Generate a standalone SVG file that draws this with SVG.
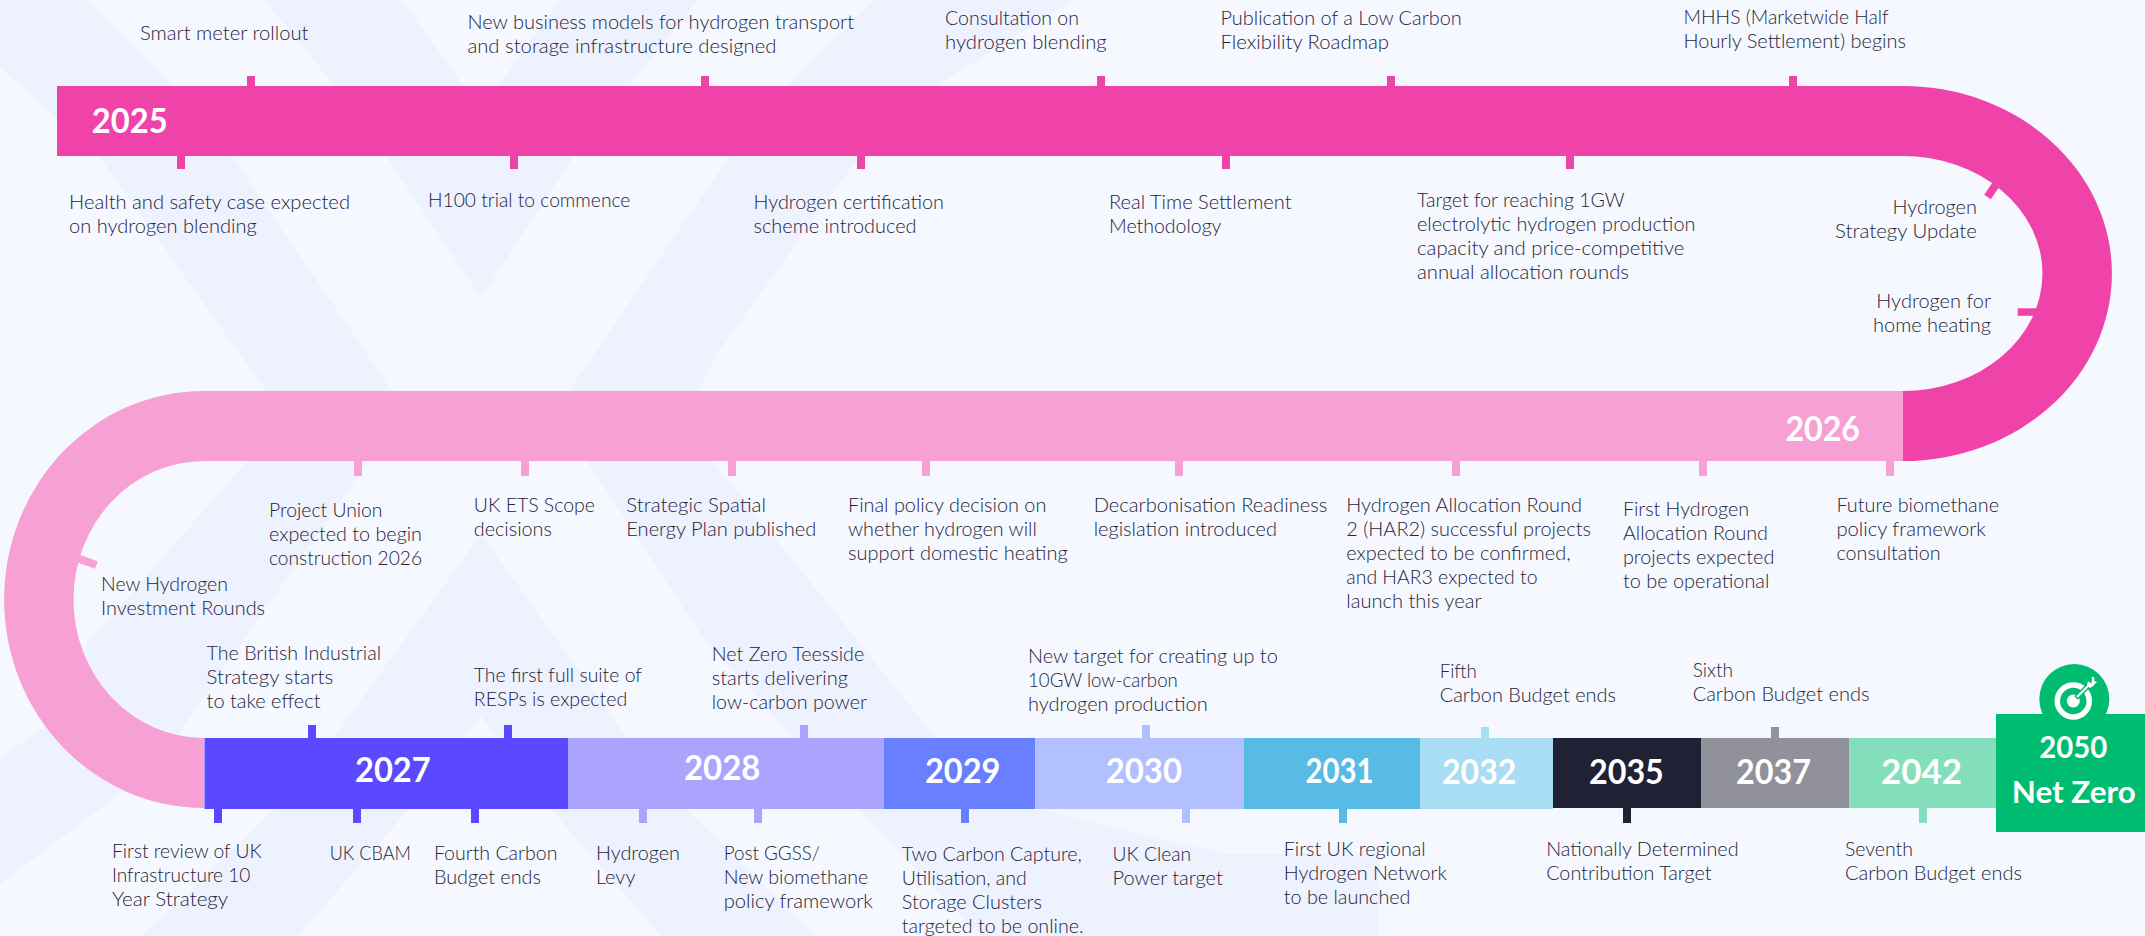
<svg xmlns="http://www.w3.org/2000/svg" width="2145" height="936" viewBox="0 0 2145 936">
<style>
.bgb{fill:#eef1fe}
text{font-family:"Lato","Noto Sans","Liberation Sans",sans-serif}
.t{font-size:19px;fill:#252438;font-weight:300}
.y{font-size:34px;fill:#ffffff;font-weight:700}
.z{font-size:31px;fill:#ffffff;font-weight:700}
</style>
<rect width="2145" height="936" fill="#f5f8ff"/>
<g id="background">
<polygon class="bgb" points="0,0 87,0 174,86 232,156 392,391 404,409 358,476 179,733 124,791 0,884 0,758 46,726 90,640 243,466 285,418 266,391 99,156 0,67"/>
<polygon class="bgb" points="874,0 1073,0 936,86 849,170 720,350 698,391 675,430 720,470 936,738 1041,809 1225,854 1379,853 1379,936 980,936 858,809 702,636 590,466 555,412 569,391 720,170 787,86"/>
<polygon class="bgb" points="264,0 402,0 481,110 560,0 698,0 629,86 574,156 481,298 386,156 335,86"/>
<polygon class="bgb" points="481,534 627,738 687,809 815,936 661,936 551,809 481,716 409,809 298,936 142,936 275,809 335,736"/>
</g>
<g id="connectors">
<g fill="#f043a9">
<rect x="247" y="76" width="8" height="11"/><rect x="701" y="76" width="8" height="11"/><rect x="1097" y="76" width="8" height="11"/><rect x="1387" y="76" width="8" height="11"/><rect x="1789" y="76" width="8" height="11"/>
<rect x="177" y="155" width="8" height="14"/><rect x="510" y="155" width="8" height="14"/><rect x="857" y="155" width="8" height="14"/><rect x="1222" y="155" width="8" height="14"/><rect x="1566" y="155" width="8" height="14"/>
<rect x="2017.7" y="308.3" width="27" height="7.5"/>
<line x1="2001" y1="177" x2="1987.5" y2="197" stroke="#f043a9" stroke-width="8"/>
</g>
<g fill="#f6a0d4">
<rect x="354" y="460" width="8" height="16"/><rect x="521" y="460" width="8" height="16"/><rect x="728" y="460" width="8" height="16"/><rect x="922" y="460" width="8" height="16"/><rect x="1175" y="460" width="8" height="16"/><rect x="1452" y="460" width="8" height="16"/><rect x="1699" y="460" width="8" height="16"/><rect x="1886" y="460" width="8" height="16"/>
<line x1="70" y1="555.5" x2="96.4" y2="565" stroke="#f6a0d4" stroke-width="8"/>
</g>
<rect x="308" y="725" width="8" height="14" fill="#5b49ff"/><rect x="504" y="725" width="8" height="14" fill="#5b49ff"/>
<rect x="214" y="808" width="8" height="15" fill="#5b49ff"/><rect x="353" y="808" width="8" height="15" fill="#5b49ff"/><rect x="471" y="808" width="8" height="15" fill="#5b49ff"/>
<rect x="639" y="808" width="8" height="15" fill="#aca3ff"/><rect x="754" y="808" width="8" height="15" fill="#aca3ff"/><rect x="800" y="725" width="8" height="14" fill="#aca3ff"/>
<rect x="961" y="808" width="8" height="15" fill="#6880ff"/>
<rect x="1142" y="725" width="8" height="14" fill="#b3c0ff"/><rect x="1182" y="808" width="8" height="15" fill="#b3c0ff"/>
<rect x="1339" y="808" width="8" height="15" fill="#57bbe6"/>
<rect x="1481" y="727" width="8" height="12" fill="#a9ddf3"/>
<rect x="1623" y="807" width="8" height="16" fill="#212135"/>
<rect x="1771" y="727" width="8" height="12" fill="#90919a"/>
<rect x="1919" y="807" width="8" height="16" fill="#83dfbb"/>
</g>
<g id="band-2025">
<path d="M57 86H1903A209 187.5 0 0 1 1903 461V391A139.5 117.5 0 0 0 1903 156H57Z" fill="#f043a9"/>
<text class="y" x="91.8" y="132.7" textLength="75.8" lengthAdjust="spacingAndGlyphs">2025</text>
</g>
<g id="band-2026">
<path d="M1903 391H204A199.4 208 0 0 0 204 808V738A130.5 138.5 0 0 1 204 461H1903Z" fill="#f6a0d4"/>
<text class="y" x="1785.4" y="440.7" textLength="74.6" lengthAdjust="spacingAndGlyphs">2026</text>
</g>
<g id="band-2027"><rect x="204.5" y="738" width="363.5" height="71" fill="#5b49ff"/><text class="y" x="355" y="782" textLength="75.7" lengthAdjust="spacingAndGlyphs">2027</text></g>
<g id="band-2028"><rect x="568" y="738" width="316" height="71" fill="#aca3ff"/><text class="y" x="684" y="780.3" textLength="76.4" lengthAdjust="spacingAndGlyphs">2028</text></g>
<g id="band-2029"><rect x="884" y="738" width="151" height="71" fill="#6880ff"/><text class="y" x="925" y="783" textLength="75.5" lengthAdjust="spacingAndGlyphs">2029</text></g>
<g id="band-2030"><rect x="1035" y="738" width="209" height="71" fill="#b3c0ff"/><text class="y" x="1105.7" y="783" textLength="76.3" lengthAdjust="spacingAndGlyphs">2030</text></g>
<g id="band-2031"><rect x="1244" y="738" width="176" height="71" fill="#57bbe6"/><text class="y" x="1305.4" y="783" textLength="68" lengthAdjust="spacingAndGlyphs">2031</text></g>
<g id="band-2032"><rect x="1420" y="738" width="133" height="71" fill="#a9ddf3"/><text class="y" x="1442" y="784.3" textLength="74.4" lengthAdjust="spacingAndGlyphs">2032</text></g>
<g id="band-2035"><rect x="1553" y="738" width="148" height="70" fill="#212135"/><text class="y" x="1589" y="784.3" textLength="74.8" lengthAdjust="spacingAndGlyphs">2035</text></g>
<g id="band-2037"><rect x="1701" y="738" width="148" height="70" fill="#90919a"/><text class="y" x="1736" y="784.3" textLength="75" lengthAdjust="spacingAndGlyphs">2037</text></g>
<g id="band-2042"><rect x="1849" y="738" width="147" height="70" fill="#83dfbb"/><text class="y" x="1881" y="784.3" textLength="81" lengthAdjust="spacingAndGlyphs">2042</text></g>
<g id="band-2050">
<circle cx="2074.3" cy="699" r="35" fill="#00bc70"/>
<rect x="1996" y="714" width="149" height="118" fill="#00bc70"/>
<circle cx="2073.3" cy="701" r="16" fill="none" stroke="#fff" stroke-width="5.5"/>
<circle cx="2073.3" cy="701" r="6.5" fill="#fff"/>
<line x1="2076" y1="698" x2="2090" y2="684" stroke="#00bc70" stroke-width="5"/>
<line x1="2077" y1="697" x2="2091" y2="683" stroke="#fff" stroke-width="2.2"/>
<polygon points="2088,681 2091,684 2094,681 2097,682 2093,686 2090,688 2087,685" fill="#fff"/>
<line x1="2093" y1="677" x2="2093" y2="683" stroke="#fff" stroke-width="2.5"/>
<text class="z" x="2039.3" y="758.3" textLength="68" lengthAdjust="spacingAndGlyphs">2050</text>
<text class="z" x="2011.8" y="802.7" textLength="123.9" lengthAdjust="spacingAndGlyphs">Net Zero</text>
</g>
<g id="ev-smart-meter"><text class="t" x="140" y="40" textLength="168.5" lengthAdjust="spacingAndGlyphs">Smart meter rollout</text></g>
<g id="ev-business-models"><text class="t" x="467.4" y="29.3" textLength="386.6" lengthAdjust="spacingAndGlyphs">New business models for hydrogen transport</text><text class="t" x="467.4" y="53.3" textLength="309.1" lengthAdjust="spacingAndGlyphs">and storage infrastructure designed</text></g>
<g id="ev-consultation"><text class="t" x="945" y="25.3" textLength="134" lengthAdjust="spacingAndGlyphs">Consultation on</text><text class="t" x="945" y="49.3" textLength="161.6" lengthAdjust="spacingAndGlyphs">hydrogen blending</text></g>
<g id="ev-flex"><text class="t" x="1220.5" y="25.3" textLength="241.2" lengthAdjust="spacingAndGlyphs">Publication of a Low Carbon</text><text class="t" x="1220.5" y="49.3" textLength="168.5" lengthAdjust="spacingAndGlyphs">Flexibility Roadmap</text></g>
<g id="ev-mhhs"><text class="t" x="1683.5" y="24" textLength="205.2" lengthAdjust="spacingAndGlyphs">MHHS (Marketwide Half</text><text class="t" x="1683.5" y="48.3" textLength="222.5" lengthAdjust="spacingAndGlyphs">Hourly Settlement) begins</text></g>
<g id="ev-health"><text class="t" x="69" y="209" textLength="281" lengthAdjust="spacingAndGlyphs">Health and safety case expected</text><text class="t" x="69" y="233" textLength="187.7" lengthAdjust="spacingAndGlyphs">on hydrogen blending</text></g>
<g id="ev-h100"><text class="t" x="428" y="207.3" textLength="202.4" lengthAdjust="spacingAndGlyphs">H100 trial to commence</text></g>
<g id="ev-cert"><text class="t" x="753.5" y="209" textLength="190.5" lengthAdjust="spacingAndGlyphs">Hydrogen certification</text><text class="t" x="753.5" y="233" textLength="163" lengthAdjust="spacingAndGlyphs">scheme introduced</text></g>
<g id="ev-rts"><text class="t" x="1109" y="209" textLength="182.6" lengthAdjust="spacingAndGlyphs">Real Time Settlement</text><text class="t" x="1109" y="233" textLength="112.4" lengthAdjust="spacingAndGlyphs">Methodology</text></g>
<g id="ev-1gw"><text class="t" x="1417" y="207.3" textLength="207.7" lengthAdjust="spacingAndGlyphs">Target for reaching 1GW</text><text class="t" x="1417" y="231.3" textLength="278.4" lengthAdjust="spacingAndGlyphs">electrolytic hydrogen production</text><text class="t" x="1417" y="255.3" textLength="267.4" lengthAdjust="spacingAndGlyphs">capacity and price-competitive</text><text class="t" x="1417" y="279.3" textLength="211.9" lengthAdjust="spacingAndGlyphs">annual allocation rounds</text></g>
<g id="ev-strategy"><text class="t" x="1892.4" y="214.3" textLength="84.5" lengthAdjust="spacingAndGlyphs">Hydrogen</text><text class="t" x="1835" y="238.3" textLength="141.9" lengthAdjust="spacingAndGlyphs">Strategy Update</text></g>
<g id="ev-home"><text class="t" x="1876.3" y="308.3" textLength="114.7" lengthAdjust="spacingAndGlyphs">Hydrogen for</text><text class="t" x="1873" y="332.3" textLength="118" lengthAdjust="spacingAndGlyphs">home heating</text></g>
<g id="ev-union"><text class="t" x="269" y="517" textLength="113.5" lengthAdjust="spacingAndGlyphs">Project Union</text><text class="t" x="269" y="541" textLength="153" lengthAdjust="spacingAndGlyphs">expected to begin</text><text class="t" x="269" y="565" textLength="153" lengthAdjust="spacingAndGlyphs">construction 2026</text></g>
<g id="ev-ets"><text class="t" x="473.8" y="512.3" textLength="121.2" lengthAdjust="spacingAndGlyphs">UK ETS Scope</text><text class="t" x="473.8" y="536.3" textLength="78.1" lengthAdjust="spacingAndGlyphs">decisions</text></g>
<g id="ev-spatial"><text class="t" x="626.3" y="512.3" textLength="139.7" lengthAdjust="spacingAndGlyphs">Strategic Spatial</text><text class="t" x="626.3" y="536.3" textLength="190.1" lengthAdjust="spacingAndGlyphs">Energy Plan published</text></g>
<g id="ev-final"><text class="t" x="848" y="512.3" textLength="198.4" lengthAdjust="spacingAndGlyphs">Final policy decision on</text><text class="t" x="848" y="536.3" textLength="188.8" lengthAdjust="spacingAndGlyphs">whether hydrogen will</text><text class="t" x="848" y="560.3" textLength="219.6" lengthAdjust="spacingAndGlyphs">support domestic heating</text></g>
<g id="ev-decarb"><text class="t" x="1093.7" y="512.3" textLength="233.7" lengthAdjust="spacingAndGlyphs">Decarbonisation Readiness</text><text class="t" x="1093.7" y="536.3" textLength="183.3" lengthAdjust="spacingAndGlyphs">legislation introduced</text></g>
<g id="ev-har2"><text class="t" x="1346.3" y="512.3" textLength="235.7" lengthAdjust="spacingAndGlyphs">Hydrogen Allocation Round</text><text class="t" x="1346.3" y="536.3" textLength="244.7" lengthAdjust="spacingAndGlyphs">2 (HAR2) successful projects</text><text class="t" x="1346.3" y="560.3" textLength="224.2" lengthAdjust="spacingAndGlyphs">expected to be confirmed,</text><text class="t" x="1346.3" y="584.3" textLength="191.2" lengthAdjust="spacingAndGlyphs">and HAR3 expected to</text><text class="t" x="1346.3" y="608.3" textLength="135.2" lengthAdjust="spacingAndGlyphs">launch this year</text></g>
<g id="ev-first-har"><text class="t" x="1622.9" y="516" textLength="126.1" lengthAdjust="spacingAndGlyphs">First Hydrogen</text><text class="t" x="1622.9" y="540" textLength="145.1" lengthAdjust="spacingAndGlyphs">Allocation Round</text><text class="t" x="1622.9" y="564" textLength="151.5" lengthAdjust="spacingAndGlyphs">projects expected</text><text class="t" x="1622.9" y="588" textLength="146.5" lengthAdjust="spacingAndGlyphs">to be operational</text></g>
<g id="ev-biomethane"><text class="t" x="1836.4" y="512.3" textLength="162.6" lengthAdjust="spacingAndGlyphs">Future biomethane</text><text class="t" x="1836.4" y="536.3" textLength="149.6" lengthAdjust="spacingAndGlyphs">policy framework</text><text class="t" x="1836.4" y="560.3" textLength="104.2" lengthAdjust="spacingAndGlyphs">consultation</text></g>
<g id="ev-investment"><text class="t" x="101" y="591.3" textLength="127" lengthAdjust="spacingAndGlyphs">New Hydrogen</text><text class="t" x="101" y="615.3" textLength="164" lengthAdjust="spacingAndGlyphs">Investment Rounds</text></g>
<g id="ev-british"><text class="t" x="206.6" y="660" textLength="174.4" lengthAdjust="spacingAndGlyphs">The British Industrial</text><text class="t" x="206.6" y="684" textLength="126.7" lengthAdjust="spacingAndGlyphs">Strategy starts</text><text class="t" x="206.6" y="708" textLength="113.9" lengthAdjust="spacingAndGlyphs">to take effect</text></g>
<g id="ev-resps"><text class="t" x="473.8" y="682" textLength="168.1" lengthAdjust="spacingAndGlyphs">The first full suite of</text><text class="t" x="473.8" y="706" textLength="153.4" lengthAdjust="spacingAndGlyphs">RESPs is expected</text></g>
<g id="ev-teesside"><text class="t" x="711.7" y="661" textLength="152.5" lengthAdjust="spacingAndGlyphs">Net Zero Teesside</text><text class="t" x="711.7" y="685" textLength="136.3" lengthAdjust="spacingAndGlyphs">starts delivering</text><text class="t" x="711.7" y="709" textLength="155.2" lengthAdjust="spacingAndGlyphs">low-carbon power</text></g>
<g id="ev-10gw"><text class="t" x="1028" y="663.3" textLength="249.8" lengthAdjust="spacingAndGlyphs">New target for creating up to</text><text class="t" x="1028" y="687.3" textLength="149.8" lengthAdjust="spacingAndGlyphs">10GW low-carbon</text><text class="t" x="1028" y="711.3" textLength="179.6" lengthAdjust="spacingAndGlyphs">hydrogen production</text></g>
<g id="ev-fifth"><text class="t" x="1439.7" y="678" textLength="37.2" lengthAdjust="spacingAndGlyphs">Fifth</text><text class="t" x="1439.7" y="702" textLength="176.3" lengthAdjust="spacingAndGlyphs">Carbon Budget ends</text></g>
<g id="ev-sixth"><text class="t" x="1692.7" y="677" textLength="40.3" lengthAdjust="spacingAndGlyphs">Sixth</text><text class="t" x="1692.7" y="701" textLength="176.7" lengthAdjust="spacingAndGlyphs">Carbon Budget ends</text></g>
<g id="ev-infra"><text class="t" x="112" y="858" textLength="149.7" lengthAdjust="spacingAndGlyphs">First review of UK</text><text class="t" x="112" y="882" textLength="138.2" lengthAdjust="spacingAndGlyphs">Infrastructure 10</text><text class="t" x="112" y="906" textLength="116.2" lengthAdjust="spacingAndGlyphs">Year Strategy</text></g>
<g id="ev-cbam"><text class="t" x="329.7" y="860" textLength="81.2" lengthAdjust="spacingAndGlyphs">UK CBAM</text></g>
<g id="ev-fourth"><text class="t" x="433.9" y="860" textLength="123.5" lengthAdjust="spacingAndGlyphs">Fourth Carbon</text><text class="t" x="433.9" y="884" textLength="107" lengthAdjust="spacingAndGlyphs">Budget ends</text></g>
<g id="ev-levy"><text class="t" x="596" y="860" textLength="84" lengthAdjust="spacingAndGlyphs">Hydrogen</text><text class="t" x="596" y="884" textLength="39.4" lengthAdjust="spacingAndGlyphs">Levy</text></g>
<g id="ev-ggss"><text class="t" x="723.7" y="860" textLength="96.3" lengthAdjust="spacingAndGlyphs">Post GGSS/</text><text class="t" x="723.7" y="884" textLength="144.6" lengthAdjust="spacingAndGlyphs">New biomethane</text><text class="t" x="723.7" y="908" textLength="149.2" lengthAdjust="spacingAndGlyphs">policy framework</text></g>
<g id="ev-ccus"><text class="t" x="901.8" y="861" textLength="180" lengthAdjust="spacingAndGlyphs">Two Carbon Capture,</text><text class="t" x="901.8" y="885" textLength="124.9" lengthAdjust="spacingAndGlyphs">Utilisation, and</text><text class="t" x="901.8" y="909" textLength="140.1" lengthAdjust="spacingAndGlyphs">Storage Clusters</text><text class="t" x="901.8" y="933" textLength="181.8" lengthAdjust="spacingAndGlyphs">targeted to be online.</text></g>
<g id="ev-clean"><text class="t" x="1112.6" y="861" textLength="78.4" lengthAdjust="spacingAndGlyphs">UK Clean</text><text class="t" x="1112.6" y="885" textLength="110.2" lengthAdjust="spacingAndGlyphs">Power target</text></g>
<g id="ev-network"><text class="t" x="1283.8" y="856" textLength="141.9" lengthAdjust="spacingAndGlyphs">First UK regional</text><text class="t" x="1283.8" y="880" textLength="163.2" lengthAdjust="spacingAndGlyphs">Hydrogen Network</text><text class="t" x="1283.8" y="904" textLength="126.7" lengthAdjust="spacingAndGlyphs">to be launched</text></g>
<g id="ev-ndc"><text class="t" x="1546.2" y="856" textLength="192.4" lengthAdjust="spacingAndGlyphs">Nationally Determined</text><text class="t" x="1546.2" y="880" textLength="165.3" lengthAdjust="spacingAndGlyphs">Contribution Target</text></g>
<g id="ev-seventh"><text class="t" x="1845" y="856" textLength="68" lengthAdjust="spacingAndGlyphs">Seventh</text><text class="t" x="1845" y="880" textLength="176.9" lengthAdjust="spacingAndGlyphs">Carbon Budget ends</text></g>
</svg>
